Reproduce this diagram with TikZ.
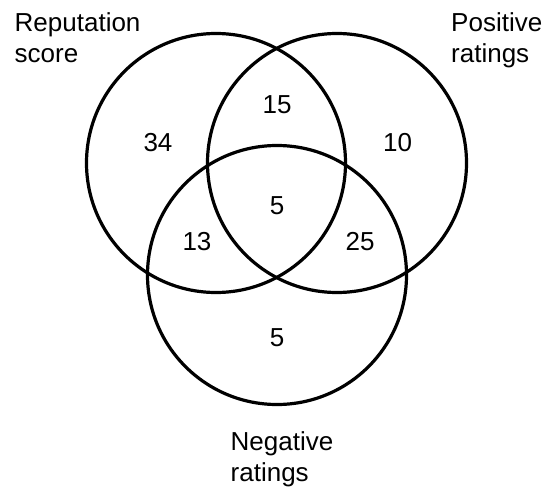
\documentclass[tikz,border=0pt]{standalone}
\usepackage{fontspec}
\setmainfont{Liberation Sans}
\begin{document}
\begin{tikzpicture}[x=1pt,y=-1pt,
  setcircle/.style={circle,draw=black,line width=3.2pt,minimum size=259pt,inner sep=0pt},
  count/.style={font=\fontsize{26}{31}\selectfont,anchor=base,inner sep=0pt},
  setlabel/.style={font=\fontsize{26}{31}\selectfont,align=left,anchor=base west,inner sep=0pt}]
\useasboundingbox (0,0) rectangle (545,489);
\node[setcircle] (L) at (216,163) {};
\node[setcircle] (R) at (337,163) {};
\node[setcircle] (B) at (277,275) {};
\node[setlabel] (labL) at (14.5,62.7) {Reputation\\score};
\node[setlabel] (labR) at (451,62.7) {Positive\\ratings};
\node[setlabel] (labB) at (230.5,481.7) {Negative\\ratings};
\node[count] (n15) at (277,113.3) {15};
\node[count] (n34) at (158,151.7) {34};
\node[count] (n10) at (397.7,152) {10};
\node[count] (n5c) at (277,214) {5};
\node[count] (n13) at (197,250.7) {13};
\node[count] (n25) at (360,250.7) {25};
\node[count] (n5b) at (277,346) {5};
\end{tikzpicture}
\end{document}
